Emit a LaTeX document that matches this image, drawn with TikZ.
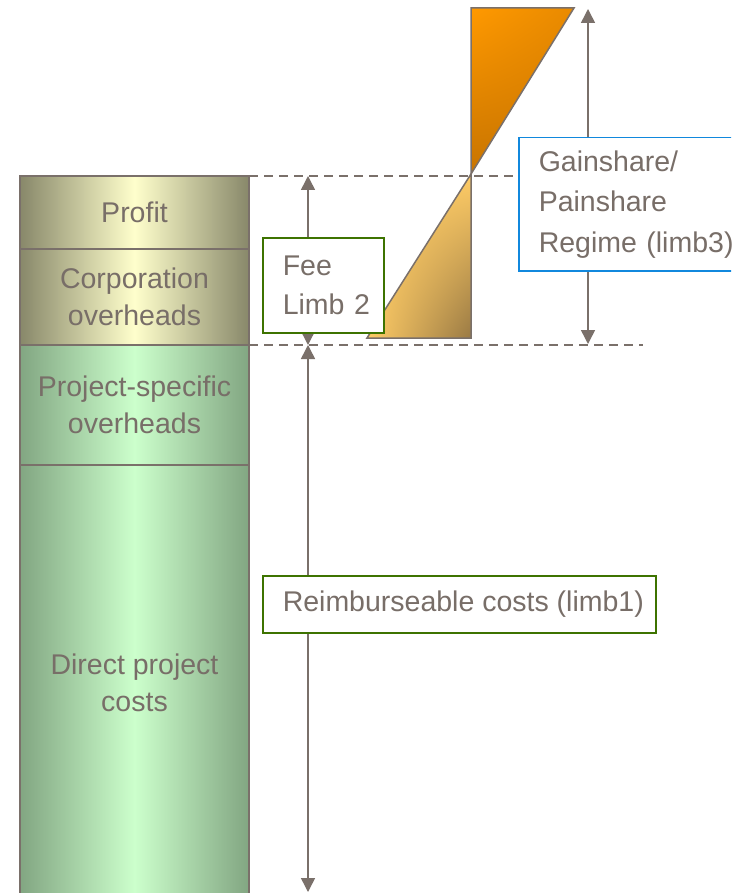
\documentclass[tikz,border=0pt]{standalone}
\usepackage{fontspec}
\setmainfont{Liberation Sans}
\usetikzlibrary{arrows.meta,shadings}
\definecolor{txt}{HTML}{786E68}
\definecolor{edge}{HTML}{7A706A}
\definecolor{olivedark}{HTML}{88886A}
\definecolor{olivelight}{HTML}{FFFFCC}
\definecolor{greendark}{HTML}{82A682}
\definecolor{greenlight}{HTML}{CCFFCC}
\definecolor{feegreen}{HTML}{3D7300}
\definecolor{gainblue}{HTML}{1188DD}
\definecolor{orA}{HTML}{FF9900}
\definecolor{orB}{HTML}{C87400}
\definecolor{ltA}{HTML}{FFCC66}
\definecolor{ltB}{HTML}{9A7A44}
\tikzset{
  seg/.style={draw=edge, line width=1.5pt, minimum width=229pt, inner sep=0pt,
    align=center, text=txt, font=\fontsize{28.5}{37}\selectfont},
  olive/.style={left color=olivedark, right color=olivedark, middle color=olivelight},
  greenish/.style={left color=greendark, right color=greendark, middle color=greenlight},
  labelbox/.style={draw, fill=white, line width=1.5pt, inner xsep=0pt, inner ysep=0pt,
    align=left, text=txt, font=\fontsize{28.5}{39}\selectfont, anchor=north west},
  dimarrow/.style={draw=edge, line width=1.5pt, {Triangle[length=14pt,width=14pt]}-{Triangle[length=14pt,width=14pt]}},
  guide/.style={draw=edge, line width=1.5pt, dash pattern=on 9pt off 6pt},
  wedge/.style={draw=edge, line width=1.5pt, line join=miter}
}
\newcommand{\ind}{\hspace*{20pt}}
\begin{document}
\begin{tikzpicture}[x=1pt,y=-1pt]
\useasboundingbox (0,0) rectangle (731,893);
\clip (0,0) rectangle (731,893);
\fill[white] (0,0) rectangle (731,893);

% column
\node[seg, olive, minimum height=73pt] (profit) at (134.5,212.5) {Profit};
\node[seg, olive, minimum height=96pt] (corp) at (134.5,297) {Corporation\\overheads};
\node[seg, greenish, minimum height=120pt] (proj) at (134.5,405) {Project-specific\\overheads};
\node[seg, greenish, minimum height=435pt] (direct) at (134.5,682.5) {Direct project\\costs};

% guide coordinates
\coordinate (topL) at (249,176);
\coordinate (topR) at (518,176);
\coordinate (botL) at (249,345);
\coordinate (botR) at (643,345);
\draw[guide] (topL) -- (topR);
\draw[guide] (botL) -- (botR);

% wedges
\coordinate (wTL) at (471,8);
\coordinate (wTR) at (574,8);
\coordinate (wMid) at (471,174);
\coordinate (wBL) at (367,338);
\coordinate (wBR) at (471,338);
\path[wedge, upper left=orA, upper right=orA!60!orB, lower left=orB, lower right=orB] (wTL) -- (wTR) -- (wMid) -- cycle;
\path[wedge, upper left=ltA, upper right=ltA, lower left=ltA, lower right=ltB] (wMid) -- (wBL) -- (wBR) -- cycle;

% dimension arrows
\coordinate (feeTop) at (308,176);
\coordinate (feeBot) at (308,345);
\coordinate (reimTop) at (308,345);
\coordinate (reimBot) at (308,892);
\coordinate (gainTop) at (588,9);
\coordinate (gainBot) at (588,344);
\draw[dimarrow] (feeTop) -- (feeBot);
\draw[dimarrow] (reimTop) -- (reimBot);
\draw[dimarrow] (gainTop) -- (gainBot);

% labels
\node[labelbox, draw=feegreen, text width=121pt, minimum height=95pt] (fee) at (262,237) {\ind Fee\\\ind Limb 2};
\node[labelbox, draw=gainblue, text width=262pt, minimum height=133pt, font=\fontsize{28.5}{40.5}\selectfont] (gain) at (518,137) {\ind Gainshare/\\\ind Painshare\\\ind Regime (limb3)};
\node[labelbox, draw=feegreen, minimum height=57pt] (reim) at (262,575) {\makebox[393pt][l]{\ind Reimburseable costs (limb1)}};
\end{tikzpicture}
\end{document}
